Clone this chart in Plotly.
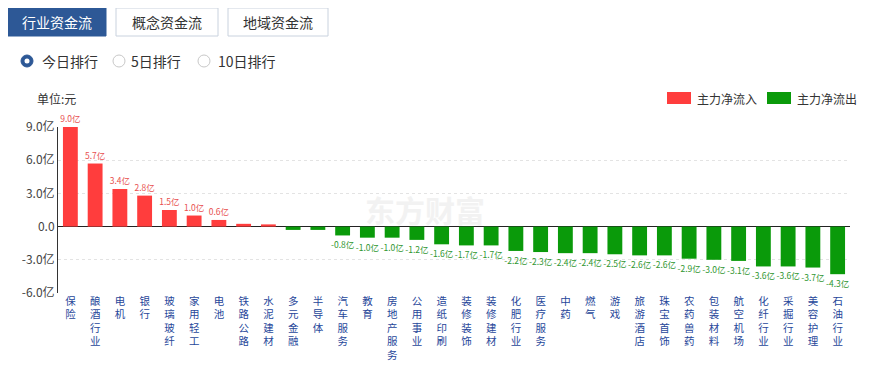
import plotly.graph_objects as go

categories = ["保险", "酿酒行业", "电机", "银行", "玻璃玻纤", "家用轻工", "电池", "铁路公路",
              "水泥建材", "多元金融", "半导体", "汽车服务", "教育", "房地产服务", "公用事业",
              "造纸印刷", "装修装饰", "装修建材", "化肥行业", "医疗服务", "中药", "燃气", "游戏",
              "旅游酒店", "珠宝首饰", "农药兽药", "包装材料", "航空机场", "化纤行业", "采掘行业",
              "美容护理", "石油行业"]
values = [9.0, 5.7, 3.4, 2.8, 1.5, 1.0, 0.6, 0.25,
          0.2, -0.3, -0.3, -0.8, -1.0, -1.0, -1.2,
          -1.6, -1.7, -1.7, -2.2, -2.3, -2.4, -2.4, -2.5,
          -2.6, -2.6, -2.9, -3.0, -3.1, -3.6, -3.6,
          -3.7, -4.3]
ytick_vals = [9, 6, 3, 0, -3, -6]
ytick_text = ["9.0亿", "6.0亿", "3.0亿", "0.0", "-3.0亿", "-6.0亿"]

RED = "#ff3d3d"
GREEN = "#0a9a0a"
RED_TXT = "#e8504f"
GREEN_TXT = "#2f962f"
FONT = "Noto Sans CJK SC, sans-serif"

colors = [RED if v > 0 else GREEN for v in values]
labels = [(f"{v:.1f}亿" if abs(v) >= 0.5 else "") for v in values]
txtcolors = [RED_TXT if v > 0 else GREEN_TXT for v in values]
ticklabels = ["<br>".join(list(c)) for c in categories]

fig = go.Figure()
fig.add_trace(go.Bar(
    x=list(range(len(categories))), y=values,
    marker=dict(color=colors, line=dict(width=0)),
    text=labels, textposition="outside", textangle=0, constraintext="none",
    textfont=dict(size=8.5, color=txtcolors, family=FONT),
    cliponaxis=False, width=0.6, showlegend=False,
))

# the page body adds an 8px margin; the figure is drawn 8px smaller and offset
OFF = 8
FW, FH = 872 - OFF, 368 - OFF
L, T, W, H = 58 - OFF, 127 - OFF, 792, 166
def px(x):
    return (x - OFF - L) / W
def py(y):
    return (T + H - (y - OFF)) / H

shapes = []
annotations = []

# buttons
btns = [(7, 106, "行业资金流", True), (116, 218, "概念资金流", False), (228, 328, "地域资金流", False)]
for x0, x1, t, active in btns:
    shapes.append(dict(type="rect", xref="paper", yref="paper", x0=px(x0), x1=px(x1), y0=py(36), y1=py(8),
                       fillcolor="#2d5896" if active else "#ffffff",
                       line=dict(color="#2d5896" if active else "#c9d2de", width=1)))
    annotations.append(dict(xref="paper", yref="paper", x=px((x0 + x1) / 2), y=py(22), text=t, showarrow=False,
                            font=dict(size=14, color="#ffffff" if active else "#333333", family=FONT),
                            xanchor="center", yanchor="middle"))

# radio buttons
radios = [(27, 40, "今日排行", True), (119, 129, "5日排行", False), (204, 216, "10日排行", False)]
for cx, tx, t, active in radios:
    r = 6
    shapes.append(dict(type="circle", xref="paper", yref="paper", x0=px(cx - r), x1=px(cx + r), y0=py(61 + r), y1=py(61 - r),
                       fillcolor="#2d5896" if active else "#ffffff",
                       line=dict(color="#2d5896" if active else "#c8c8c8", width=1)))
    if active:
        r2 = 2.5
        shapes.append(dict(type="circle", xref="paper", yref="paper", x0=px(cx - r2), x1=px(cx + r2), y0=py(61 + r2), y1=py(61 - r2),
                           fillcolor="#ffffff", line=dict(width=0)))
    annotations.append(dict(xref="paper", yref="paper", x=px(tx), y=py(61), text=t, showarrow=False,
                            font=dict(size=14, color="#333333", family=FONT), xanchor="left", yanchor="middle"))

# unit label
annotations.append(dict(xref="paper", yref="paper", x=px(35), y=py(98), text="单位:元", showarrow=False,
                        font=dict(size=12, color="#333333", family=FONT), xanchor="left", yanchor="middle"))

# legend
for x0, col, t in [(667, RED, "主力净流入"), (767, GREEN, "主力净流出")]:
    shapes.append(dict(type="rect", xref="paper", yref="paper", x0=px(x0), x1=px(x0 + 24), y0=py(104), y1=py(92),
                       fillcolor=col, line=dict(width=0)))
    annotations.append(dict(xref="paper", yref="paper", x=px(x0 + 28), y=py(98), text=t, showarrow=False,
                            font=dict(size=12, color="#333333", family=FONT), xanchor="left", yanchor="middle"))

# watermark
annotations.append(dict(xref="paper", yref="paper", x=px(425), y=py(209), text="<b>东方财富</b>", showarrow=False,
                        font=dict(size=30, color="#f2f2f2", family=FONT), xanchor="center", yanchor="middle"))

fig.update_layout(
    width=FW, height=FH,
    margin=dict(l=L, r=FW - L - W, t=T, b=FH - T - H, autoexpand=False),
    paper_bgcolor="#ffffff", plot_bgcolor="#ffffff",
    bargap=0.4,
    shapes=shapes, annotations=annotations,
    font=dict(family=FONT),
)
fig.update_xaxes(
    tickmode="array", tickvals=list(range(len(categories))), ticktext=ticklabels,
    tickfont=dict(size=10.5, color="#27479a", family=FONT),
    range=[-0.5, len(categories) - 0.5], showgrid=False, zeroline=False, showline=False,
    ticks="", ticklen=0, automargin=False,
)
fig.update_yaxes(
    range=[-6, 9], tickmode="array", tickvals=ytick_vals, ticktext=ytick_text,
    tickfont=dict(size=12, color="#444444", family=FONT),
    showgrid=True, gridcolor="#e3e3e3", griddash="dot", gridwidth=1,
    zeroline=True, zerolinecolor="#222222", zerolinewidth=1,
    showline=True, linecolor="#333333", linewidth=1, automargin=False,
)

fig.write_html("out.html")
